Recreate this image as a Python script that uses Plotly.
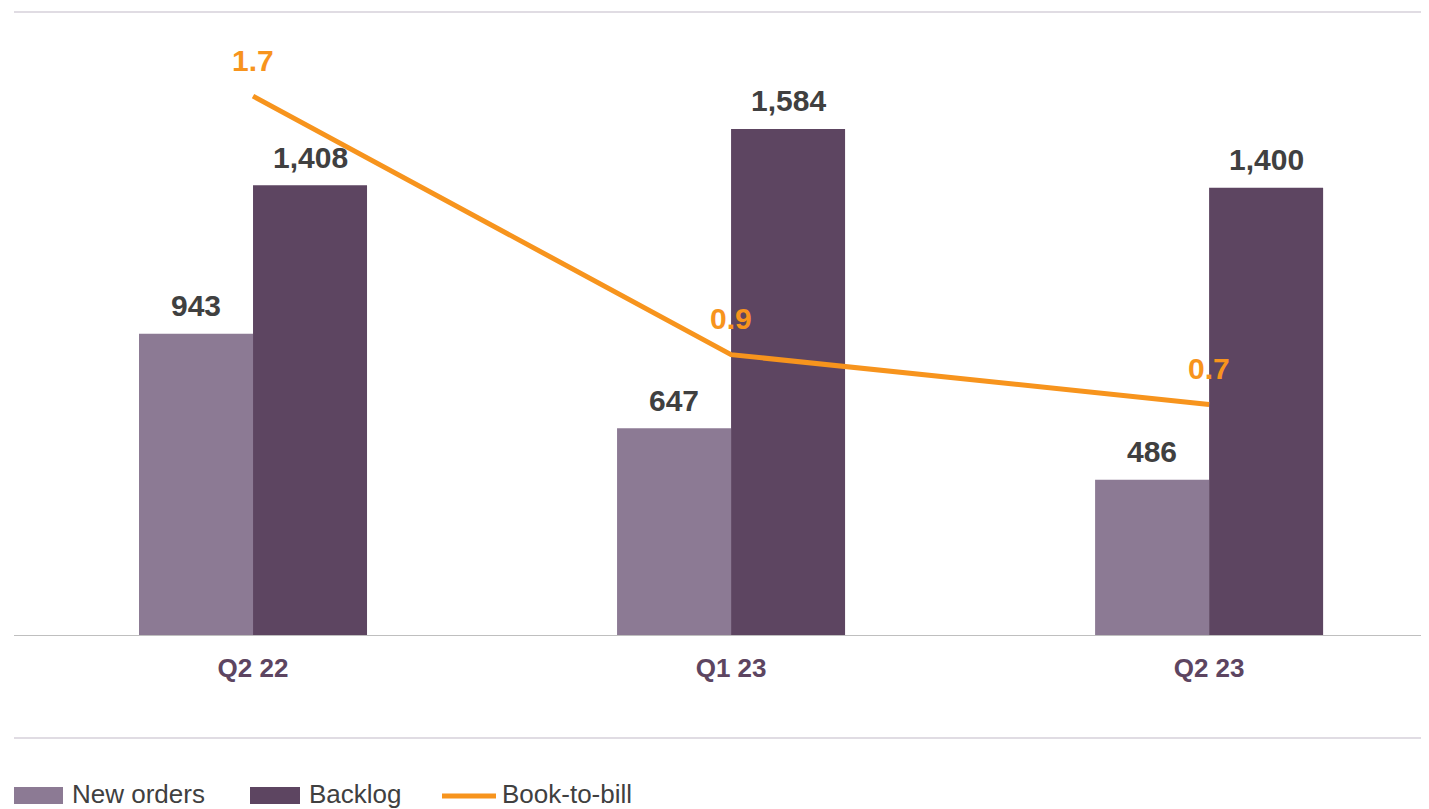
import plotly.graph_objects as go

categories = ["Q2 22", "Q1 23", "Q2 23"]
new_orders = [943, 647, 486]
backlog = [1408, 1584, 1400]
book_to_bill = [1.73, 0.90, 0.74]

LIGHT = "#8c7a94"
DARK = "#5d4561"
ORANGE = "#f7941d"
TEXT = "#404040"
FONT = "Arial, Liberation Sans, sans-serif"

# the page adds an 8px body margin; figure is sized to fill the rest of the window
OFF = 8
W, H = 1429 - OFF, 809 - OFF
L, T, B = 14 - OFF, 12 - OFF, 174
PW = W - L
PH = H - T - B

fig = go.Figure()
fig.add_trace(go.Bar(x=categories, y=new_orders, name="New orders",
                     marker=dict(color=LIGHT, line=dict(width=0)), showlegend=False))
fig.add_trace(go.Bar(x=categories, y=backlog, name="Backlog",
                     marker=dict(color=DARK, line=dict(width=0)), showlegend=False))
fig.add_trace(go.Scatter(x=categories, y=book_to_bill, name="Book-to-bill", yaxis="y2",
                         mode="lines", line=dict(color=ORANGE, width=5), showlegend=False))

annotations = []
half_bar = 0.477 / 4 * (PW / 2.96)
for c, v in zip(categories, new_orders):
    annotations.append(dict(x=c, y=v, xref="x", yref="y", text=f"{v:,}", showarrow=False,
                            xshift=-half_bar, yshift=28, yanchor="middle",
                            font=dict(family=FONT, size=30, color=TEXT, weight="bold")))
for c, v in zip(categories, backlog):
    annotations.append(dict(x=c, y=v, xref="x", yref="y", text=f"{v:,}", showarrow=False,
                            xshift=half_bar, yshift=28, yanchor="middle",
                            font=dict(family=FONT, size=30, color=TEXT, weight="bold")))
for c, v in zip(categories, book_to_bill):
    annotations.append(dict(x=c, y=v, xref="x", yref="y2", text=f"{v:.1f}", showarrow=False,
                            yshift=36, yanchor="middle",
                            font=dict(family=FONT, size=30, color=ORANGE, weight="bold")))

# helpers: page pixel -> paper coordinates
def px_x(p):
    return (p - OFF - L) / PW

def px_y(p):
    return (H - B - (p - OFF)) / PH

shapes = [
    dict(type="line", xref="paper", yref="paper", x0=0, x1=1, y0=1, y1=1,
         line=dict(color="#d6d1da", width=1.5)),
    dict(type="line", xref="paper", yref="paper", x0=px_x(14), x1=1, y0=px_y(738), y1=px_y(738),
         line=dict(color="#d6d1da", width=1.5)),
    dict(type="rect", xref="paper", yref="paper", x0=px_x(14), x1=px_x(63), y0=px_y(804), y1=px_y(787),
         fillcolor=LIGHT, line=dict(width=0)),
    dict(type="rect", xref="paper", yref="paper", x0=px_x(250), x1=px_x(300), y0=px_y(804), y1=px_y(787),
         fillcolor=DARK, line=dict(width=0)),
    dict(type="line", xref="paper", yref="paper", x0=px_x(442), x1=px_x(496), y0=px_y(796), y1=px_y(796),
         line=dict(color=ORANGE, width=5)),
]
for label, xpx in [("New orders", 70), ("Backlog", 307), ("Book-to-bill", 500)]:
    annotations.append(dict(x=px_x(xpx), y=px_y(794), xref="paper", yref="paper", text=label,
                            showarrow=False, xanchor="left", yanchor="middle",
                            font=dict(family=FONT, size=26, color=TEXT)))

fig.update_layout(
    width=W, height=H,
    margin=dict(l=L, r=0, t=T, b=B, pad=0),
    paper_bgcolor="white", plot_bgcolor="white",
    barmode="group", bargap=0.523, bargroupgap=0,
    xaxis=dict(range=[-0.5, 2.46], showgrid=False, zeroline=False, showline=True,
               linecolor="#bfbfbf", linewidth=1, ticks="", ticklabelstandoff=10,
               tickfont=dict(family=FONT, size=26, color=DARK, weight="bold")),
    yaxis=dict(range=[0, 1950], showgrid=False, zeroline=False, showticklabels=False, showline=False),
    yaxis2=dict(range=[0, 2.0], overlaying="y", side="right", showgrid=False, zeroline=False,
                showticklabels=False, showline=False),
    annotations=annotations, shapes=shapes,
)

fig.write_html("out.html")
